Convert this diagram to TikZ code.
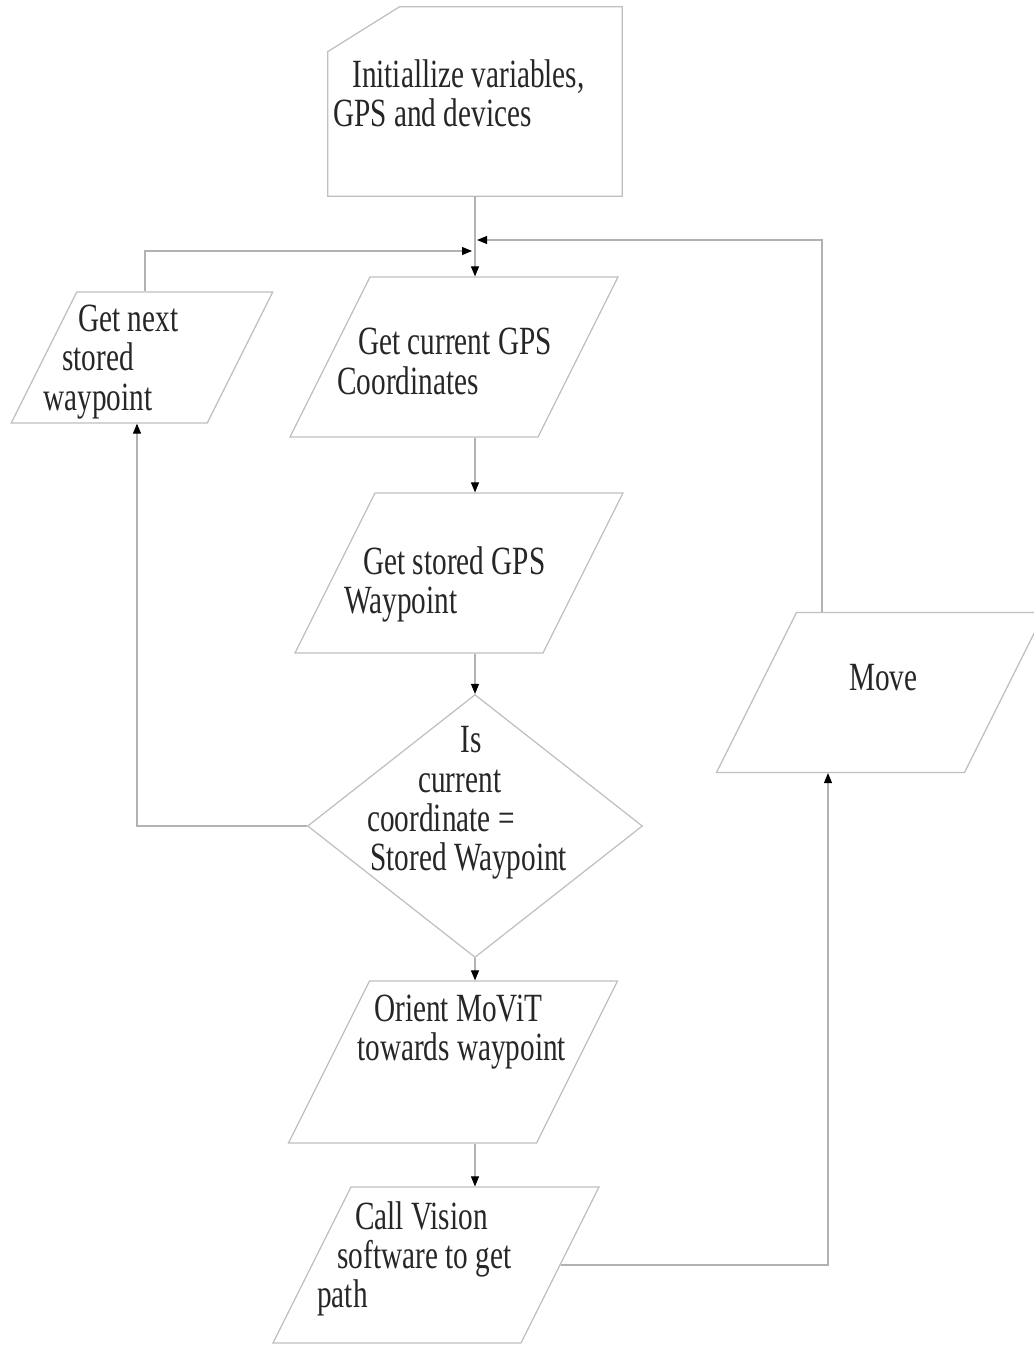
\documentclass[tikz,border=0pt]{standalone}
\usepackage{fontspec}
\setmainfont{Liberation Serif}[FakeStretch=0.73]
\usetikzlibrary{arrows.meta,shapes.geometric,calc}
\tikzset{
  card/.style={draw=none, inner sep=0pt, minimum width=5.88cm, minimum height=3.78cm},
  io/.style={rectangle, xslant=0.5, transform shape, draw=black!25, line width=0.7pt,
    inner sep=0pt, minimum width=4.96cm, minimum height=3.2cm},
  decide/.style={diamond, draw=black!25, line width=0.7pt, inner sep=0pt,
    minimum width=6.7cm, minimum height=5.26cm},
  txt/.style={anchor=base west, align=left, inner sep=0pt, text=black!85,
    font=\fontsize{22.8}{22.2}\selectfont},
  flow/.style={draw=black!30, line width=0.6pt,
    -{Triangle[length=0.2cm,width=0.16cm,black]}},
}

\begin{document}
\begin{tikzpicture}[x=0.02cm, y=-0.02cm]
  \useasboundingbox (0,0) rectangle (1034,1345);
  % shapes
  \node[card] (init) at (475,101.5) {};
  \draw[draw=black!25, line width=0.7pt] ($(init.north west)+(72,0)$) -- (init.north east)
    -- (init.south east) -- (init.south west) -- ($(init.north west)+(0,45)$) -- cycle;
  \node[io, minimum width=3.92cm, minimum height=2.62cm] (next) at (142,357.5) {};
  \node[io] (cur) at (454,357) {};
  \node[io] (stored) at (459,573) {};
  \node[decide] (dec) at (475,826) {};
  \node[io, minimum height=3.24cm] (orient) at (453,1062) {};
  \node[io, minimum height=3.12cm] (call) at (436,1265) {};
  \node[io] (move) at (880.5,692.5) {};
  % texts
  \node[txt] (init-t) at (333,127) {\hspace*{0.38cm}Initiallize variables,\\GPS and devices};
  \node[txt] (next-t) at (43,410) {\hspace*{0.7cm}Get next\\\hspace*{0.38cm}stored\\waypoint};
  \node[txt] (cur-t) at (337,394) {\hspace*{0.42cm}Get current GPS\\Coordinates};
  \node[txt] (stored-t) at (344,613) {\hspace*{0.38cm}Get stored GPS\\Waypoint};
  \node[txt] (dec-t) at (367,870) {\hspace*{1.86cm}Is\\\hspace*{1.02cm}current\\coordinate =\\\hspace*{0.06cm}Stored Waypoint};
  \node[txt] (orient-t) at (357,1060) {\hspace*{0.34cm}Orient MoViT\\towards waypoint};
  \node[txt] (call-t) at (317,1307) {\hspace*{0.76cm}Call Vision\\\hspace*{0.4cm}software to get\\path};
  \node[txt] (move-t) at (849,690) {Move};
  % connectors
  \coordinate (jl) at (472,251);
  \coordinate (jr) at (477,240);
  \draw[flow] (init.south) -- (cur.north -| init.south);
  \draw[flow] (next.north -| 145,0) |- (jl);        % loop back from next waypoint
  \draw[flow] (move.north -| 822,0) |- (jr);        % loop back from move
  \draw[flow] (cur.south -| init.south) -- (stored.north -| init.south);
  \draw[flow] (stored.south -| dec.north) -- (dec.north);
  \draw[flow] (dec.west) -| (next.south -| 137,0);
  \draw[flow] (dec.south) -- (orient.north -| dec.south);
  \draw[flow] (orient.south -| dec.south) -- (call.north -| dec.south);
  \draw[flow] (call.east) -| (move.south -| 828,0);
\end{tikzpicture}
\end{document}
